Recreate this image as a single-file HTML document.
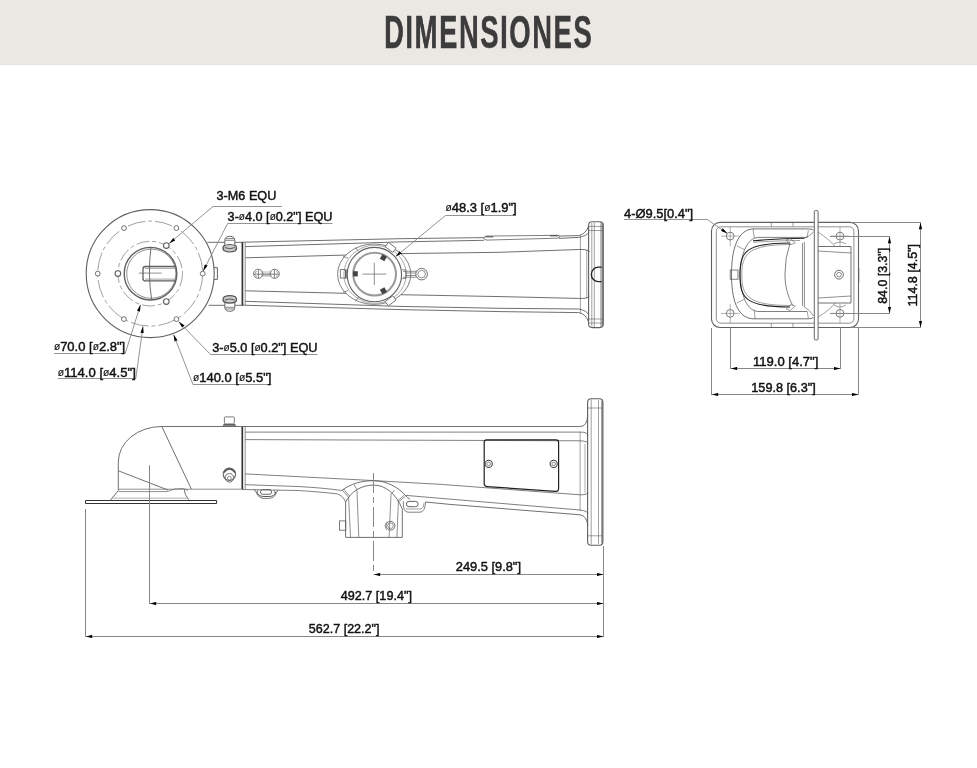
<!DOCTYPE html>
<html><head><meta charset="utf-8">
<style>
html,body{margin:0;padding:0;background:#fff;width:977px;height:768px;overflow:hidden}
#hdr{position:absolute;left:0;top:0;width:977px;height:64px;background:#ebe8e4;border-bottom:1px solid #e3e3e2}
#ttl{position:absolute;left:384px;top:4px;font-family:"Liberation Sans",sans-serif;font-weight:bold;font-size:47px;color:#3c3c3c;white-space:nowrap;transform-origin:0 0;transform:scaleX(0.585);letter-spacing:2.6px;-webkit-text-stroke:0.5px #3c3c3c;will-change:transform}
svg{position:absolute;left:0;top:0;will-change:transform}
svg text{font-family:"Liberation Sans",sans-serif;fill:#111;stroke:#111;stroke-width:0.45}
</style></head><body>
<div id="hdr"></div>
<div id="ttl">DIMENSIONES</div>
<svg width="977" height="768" viewBox="0 0 977 768">

<g id="plan" fill="none" stroke="#606060" stroke-width="0.9">
<circle cx="150.2" cy="273.6" r="64" stroke-width="1.1"/>
<path d="M213.9 267.7 H217.4 V279.4 H213.9" stroke-width="1"/>
<circle cx="150.2" cy="273.6" r="52.5" stroke-dasharray="18 3 4 3" stroke="#888" stroke-width="0.8"/>
<circle cx="150.2" cy="273.6" r="32.3" stroke-dasharray="13 3 4 3" stroke="#888" stroke-width="0.8"/>
<g stroke-width="0.9" fill="#fff">
<circle cx="202.7" cy="273.6" r="2.4"/>
<circle cx="176.4" cy="228.1" r="2.4"/>
<circle cx="124.0" cy="228.1" r="2.4"/>
<circle cx="97.7" cy="273.6" r="2.4"/>
<circle cx="123.9" cy="319.1" r="2.4"/>
<circle cx="176.4" cy="319.1" r="2.4"/>
</g>
<g stroke-width="1.1" fill="#fff">
<circle cx="166.3" cy="245.6" r="2.8"/>
<circle cx="117.9" cy="273.6" r="2.8"/>
<circle cx="166.3" cy="301.6" r="2.8"/>
</g>
<circle cx="150.5" cy="273.7" r="26.3" stroke-width="1.4"/>
<circle cx="151.3" cy="273.7" r="24.6" stroke-width="0.7"/>
<path d="M175.6 266.5 H145.5 Q143 266.5 143 269 V278.4 Q143 280.9 145.5 280.9 H175.6" stroke-width="1.3"/>
<path d="M145 268.3 H175.8 M145 279.1 H175.8" stroke-width="0.6"/>
<path d="M138.7 273.1 H161.6" stroke-width="0.7"/>
<path d="M150.9 248 Q147.6 273.7 151.6 299.4" stroke-width="0.9"/>
<!-- neck -->
<path d="M207.3 242.3 H242.4 M208.6 305.3 H242.4"/>
<path d="M242.4 242 V305.6" stroke="#333" stroke-width="1.7"/>
<path d="M245.2 242.3 V305.2" stroke-width="0.7"/>
<!-- nuts -->
<g stroke="#666" stroke-width="0.9">
<path d="M224.8 246 V240.5 Q224.8 236.3 229.8 236.3 Q234.8 236.3 234.8 240.5 V246" fill="#fff" stroke-width="1"/>
<path d="M225.2 238.6 H234.4 M225 240.3 H234.6" stroke="#777" stroke-width="0.9"/>
<path d="M223.6 246 Q229.8 243 236 246 Q237.4 248.8 235.4 250.8 Q229.8 253.2 224.2 250.8 Q222.2 248.8 223.6 246 Z" fill="#ccc" stroke="#555" stroke-width="1.2"/>
<path d="M224.8 247.6 Q229.8 249.8 234.8 247.6" stroke="#555" stroke-width="1"/>
<path d="M224.8 301.6 V307.1 Q224.8 311.3 229.8 311.3 Q234.8 311.3 234.8 307.1 V301.6" fill="#fff" stroke-width="1"/>
<path d="M225.2 309 H234.4 M225 307.3 H234.6" stroke="#777" stroke-width="0.9"/>
<path d="M223.6 301.6 Q229.8 304.6 236 301.6 Q237.4 298.8 235.4 296.8 Q229.8 294.4 224.2 296.8 Q222.2 298.8 223.6 301.6 Z" fill="#ccc" stroke="#555" stroke-width="1.2"/>
<path d="M224.8 300 Q229.8 297.8 234.8 300" stroke="#555" stroke-width="1"/>
</g>
<!-- arm lines -->
<path d="M242.4 242.2 L400 238.7 L500 237.4 L578.7 235.6 Q586 234 588.6 226"/>
<path d="M245.2 246.6 L400 241.9 L484 240.3 M559 238.4 L578.7 237.4 Q587 236 589 232"/>
<path d="M245.2 257.8 L400 253.6 L500 252.3 L578.7 249.5 Q588 249 589.6 252"/>
<path d="M245.2 290.8 L400 294.7 L500 296.6 L578.7 298.4 Q588 299 589.6 296"/>
<path d="M245.2 301.3 L400 306.4 L500 308.3 L578.7 309 Q587 310.5 589 315"/>
<path d="M242.4 305.2 L400 309.6 L500 311.6 L578.7 312.6 Q586 314 588.6 322"/>
<path d="M580.4 235 V313.5 M586.8 250 V298" stroke-width="0.6"/>
<!-- slot on top -->
<path d="M486.5 236.1 L557 235.3 Q559.8 235.4 559.8 236.8 Q559.6 238.1 557 238.2 L487 240.1 Q484 240.1 484 238.1 Q484.2 236.1 486.5 236.1 Z" stroke-width="0.8" fill="#fff"/>
<path d="M485.5 236.8 H493.2 M550 235.8 H558" stroke="#444" stroke-width="1"/>
<!-- flange -->
<rect x="588.6" y="221.8" width="14.7" height="105.8" rx="3.5" stroke-width="1.1"/>
<path d="M591.8 223 V326.5 M594.3 222.5 V327 M600.8 222 V327.5" stroke-width="0.6"/>
<path d="M589 226.4 H603 M589 230.5 H603 M589 319 H603 M589 323 H603" stroke-width="0.6"/>
<path d="M602.2 223 V326.5" stroke="#666" stroke-width="1.2"/>
<path d="M601.7 267.2 H598.5 A7.2 7.2 0 0 0 598.5 281.6 H601.7" stroke="#222" stroke-width="1.3"/>
<path d="M242.6 273.6 Q241.8 273.6 242.6 275" stroke-width="0.6"/>
<!-- camera mount -->
<ellipse cx="374.2" cy="274.2" rx="36.6" ry="30.2" stroke-width="0.8" fill="#fff"/>
<ellipse cx="375" cy="274.3" rx="31.2" ry="29" stroke="#888" stroke-width="0.7"/>
<circle cx="374.4" cy="274.6" r="27.2" stroke-width="1.1"/>
<circle cx="374.6" cy="274.1" r="21.4" stroke="#999" stroke-width="2"/>
<path d="M343 256.3 L348 258.3 M343 292.5 L348 290.5 M355.5 247.4 L358.4 251.4 M355.5 301.4 L358.4 297.4" stroke-width="0.7"/>
<path d="M345.9 269.5 V278.5" stroke="#444" stroke-width="1.4"/>
<path d="M362.3 274.1 H386.3 M374.3 262.8 V285" stroke-width="0.7"/>
<g fill="#444" stroke="none">
<rect x="380.8" y="255.1" width="5.2" height="5.2" transform="rotate(30 383.4 257.7)"/>
<rect x="353" y="271.2" width="4.8" height="5.2"/>
<rect x="380.8" y="288.1" width="5.2" height="5.2" transform="rotate(-30 383.4 290.7)"/>
</g>
<rect x="385.8" y="244.7" width="9.6" height="5.4" transform="rotate(37 390.6 247.4)" stroke-width="0.8" fill="#fff"/>
<rect x="385.8" y="298.1" width="9.6" height="5.4" transform="rotate(-37 390.6 300.8)" stroke-width="0.8" fill="#fff"/>
<rect x="340.3" y="269.6" width="5" height="8.4" stroke-width="0.8"/>
<path d="M403 271.3 H416.5 M403 277.2 H416.5 M405 273 H416 M405 275.5 H416" stroke-width="0.7"/>
<path d="M402 269.8 H406 V278.6 H402" stroke-width="0.7"/>
<circle cx="421.6" cy="274.1" r="5.8" stroke-width="0.9"/>
<circle cx="421.6" cy="274.1" r="3.8" stroke-width="0.7"/>
<!-- slot neck bolts -->
<rect x="261" y="271" width="10.5" height="5.7" fill="#ddd" stroke="none"/>
<circle cx="258.2" cy="273.8" r="4.6" stroke="#777" stroke-width="1"/>
<circle cx="274.7" cy="273.8" r="4.6" stroke="#777" stroke-width="1"/>
<path d="M253.8 274.2 H279.2" stroke="#666" stroke-width="0.8"/>
<path d="M262 275.8 H271" stroke="#999" stroke-width="0.6"/>
<path d="M258.4 269.5 V278.2 M274.4 269.5 V278.2" stroke="#666" stroke-width="0.8"/>
<path d="M256.8 270.8 L254.6 274 L256.8 277 M276.2 270.8 L278.4 274 L276.2 277" stroke="#888" stroke-width="0.7"/>
</g>

<g id="side" fill="none" stroke="#606060" stroke-width="0.9">
<!-- base plate -->
<path d="M85.5 500.5 H216.6 V503.5 H85.5 Z" stroke="#333" stroke-width="1"/>
<!-- pedestal -->
<path d="M110 500.5 L118.3 490.7 V462 A43.2 35.5 0 0 1 161.8 426.5 H241.8"/>
<path d="M188.8 499.8 Q184 494 184.4 489.6"/>
<path d="M161.8 426.5 L191.4 489.2 M118.6 470.9 L167.9 490"/>
<path d="M118.6 489.2 H241.8 M118.6 491.6 H167 Q175 488 182 488.5 Q186 489 188 490.5" stroke-width="0.7"/>
<path d="M112.6 498.2 H187" stroke-width="0.5"/>
<!-- nut top -->
<rect x="224.4" y="416.9" width="9.9" height="7" rx="0.8" stroke-width="0.8"/>
<path d="M223.4 424.6 H235.4 M222.8 425.8 H236" stroke="#555" stroke-width="1"/>
<!-- bolt -->
<circle cx="229.4" cy="474.3" r="6.2" stroke="#666" stroke-width="1.1"/>
<path d="M223.8 472.5 Q229.4 465.5 235 472.5" stroke="#555" stroke-width="1.5"/>
<circle cx="229.4" cy="477.8" r="4.3" stroke-width="0.9"/>
<circle cx="229.4" cy="478.2" r="1.9" stroke-width="0.7"/>
<path d="M242.3 426.4 V489.4" stroke="#333" stroke-width="1.7"/>
<path d="M245.2 426.6 V489.2" stroke-width="0.7"/>
<!-- arm lines -->
<path d="M242 426.5 H579.5 Q587.2 427 587.8 415"/>
<path d="M245.2 432.1 H580 Q588 432 588 436" stroke-width="0.8"/>
<path d="M245.2 439.6 L580 440.8 Q588 441 588 444" stroke-width="0.8"/>
<path d="M245.2 473.9 L370 480.4 L440 484.3 L580 494.8 Q588 495 588 492" stroke-width="0.8"/>
<path d="M245.2 484.7 L298 486.5 Q325 488 341.7 490.5" stroke-width="0.8"/>
<path d="M242 489.5 L298 490.5 Q322 492 337.3 493.9 Q343.5 496 345.6 502.2" stroke-width="0.8"/>
<path d="M406 495.4 L440 498.3 L580 510 Q588 511 588 514" stroke-width="0.8"/>
<path d="M425.5 502 L450 504.4 L580 514.8 Q587.2 516 587.8 526" />
<path d="M580.1 431.6 V511" stroke-width="0.6"/>
<path d="M585 444 V493" stroke-width="0.5"/>
<!-- hook below neck -->
<path d="M253.5 489.4 Q255.5 490 256.3 492.5 Q258.5 498.4 264.5 498.4 H268.5 Q274.5 498.4 276.5 492.5 Q277.3 490.2 278.3 489.9" stroke="#666" stroke-width="0.9"/>
<path d="M256.8 491.8 Q258.3 496.5 263.8 496.5 H269.2 Q274.6 496.5 275.8 491.8" stroke="#555" stroke-width="1"/>
<rect x="260.4" y="489.6" width="11.2" height="4.7" rx="2.3" stroke="#555" stroke-width="0.9"/>
<path d="M257.6 489.6 V492.8 M274.3 489.9 V492.8" stroke="#666" stroke-width="0.7"/>
<!-- mount -->
<path d="M341.7 490.5 C351 483.5 362 480.7 373.5 480.7 C386 480.7 398 487 405 495 Q407.5 498 410 499.3" stroke-width="0.9"/>
<path d="M345.6 537.4 V502.2 C351 491 362 485.1 373.5 485.1 C386 485.1 396 494 402.3 509 V537.4 Z" stroke-width="0.9"/>
<path d="M342.2 490 L348.6 497.3 M343.6 489 L349.6 496.3 M354 484.6 L356.9 489.5 M394.5 490 L391 494.4 M405.2 496.4 L398.4 502.2 M404 495.3 L397.4 501.2" stroke-width="0.7"/>
<path d="M348.6 497.3 L350.5 537.4 M356.9 489.5 L358.8 537.4 M391 494.4 L389.1 537.4 M398.4 502.2 L396.9 537.4" stroke-width="0.7"/>
<rect x="339.4" y="520.9" width="6.4" height="9.3" stroke-width="0.8"/>
<circle cx="390.5" cy="525.7" r="4.4" stroke-width="0.9"/>
<circle cx="390.5" cy="525.7" r="2.8" stroke-width="0.7"/>
<path d="M386.5 521.5 Q383.5 525.7 386.5 530" stroke-width="0.6"/>
<!-- hook right of mount -->
<path d="M403.3 501.2 Q403 512.2 408 512.2 H420 Q425.2 512 425.5 502" stroke-width="0.8"/>
<rect x="406.4" y="501.4" width="11.7" height="5.3" rx="2.6" stroke-width="1"/>
<path d="M406 509 H421 Q424 508 424 503" stroke-width="0.6"/>
<!-- cover plate -->
<path d="M486.5 439.8 H556 Q558.6 439.8 558.6 442.4 V488.5 Q558.6 491.5 555.5 491.3 L487 486.6 Q484.2 486.4 484.2 483.6 V442.4 Q484.2 439.8 486.5 439.8 Z" stroke="#222" stroke-width="1.2"/>
<circle cx="488.7" cy="463.9" r="3.6" stroke="#444" stroke-width="1.1"/>
<circle cx="488.7" cy="463.9" r="1.8" stroke-width="0.7"/>
<circle cx="553.7" cy="463.9" r="3.6" stroke="#444" stroke-width="1.1"/>
<circle cx="553.7" cy="463.9" r="1.8" stroke-width="0.7"/>
<!-- flange -->
<rect x="587.6" y="398.7" width="15.3" height="146.5" rx="3.5" stroke-width="1.1"/>
<path d="M591.2 399.5 V544.5 M598.5 400 V544" stroke-width="0.6"/>
<path d="M588 408 H602.5 M588 535.8 H602.5" stroke-width="0.6"/>
<path d="M602 400.5 V543.5" stroke="#666" stroke-width="1.2"/>
</g>

<g id="end" fill="none" stroke="#606060" stroke-width="0.9">
<rect x="711.5" y="222.4" width="147" height="105.1" rx="8.5" stroke-width="1.1"/>
<rect x="716.3" y="226.8" width="137.6" height="96.4" rx="4.5" stroke-width="0.7"/>
<path d="M771.3 222.5 V226.7 M793 222.5 V226.7 M771.3 323 V327.2 M793 323 V327.2" stroke-width="0.6"/>
<g stroke-width="0.8">
<circle cx="730.2" cy="236.1" r="3.9"/><circle cx="840" cy="236.1" r="3.9"/>
<circle cx="730.2" cy="313.4" r="3.9"/><circle cx="840" cy="313.4" r="3.9"/>
</g>
<path d="M721 236.1 H739.5 M730.2 227 V246 M721 313.4 H739.5 M730.2 304 V323 M831 236.1 H849 M840 227 V246 M831 313.4 H849 M840 304 V323" stroke-width="0.5"/>
<!-- U ring -->
<path d="M813.5 230 Q811 228.9 808.4 228.9 H753 C737 230, 731.5 250, 731.5 274.5 C731.5 299, 737 318, 753 318.8 H808.4 Q811 318.8 813.5 317.5" stroke-width="0.9"/>
<path d="M807 237.4 H758 C747 238.5, 741.5 252, 739.8 274.5 C741.5 297, 747 310.5, 758 311.5 H807" stroke-width="0.8"/>
<path d="M790 243 C745 243, 740 252, 740 275 C740 298, 745 307, 790 307" stroke="#222" stroke-width="1.1"/>
<path d="M791 244.5 C748 244.5, 741.8 254, 741.8 275 C741.8 296, 748 305.5, 791 305.5" stroke-width="0.6"/>
<path d="M753 240.8 Q780 238.3 804.4 238.2" stroke="#222" stroke-width="1.1"/>
<path d="M753 242.3 Q780 240.5 800 240.5" stroke-width="0.6"/>
<path d="M790 243.2 Q784.9 258 784.9 274.5 Q784.9 291 792.7 305.7" stroke-width="0.8"/>
<path d="M802.5 243 V306 M804.4 242 V307" stroke-width="0.7"/>
<path d="M804.4 238.2 Q810 236 813.5 232 M804.4 307 Q810 310 813.5 316" stroke-width="0.7"/>
<rect x="730.2" y="270" width="7.8" height="9.2" stroke-width="0.8"/>
<path d="M753 228.9 L754.3 238 M736.7 245.8 L744.5 249.7 M736.7 303.1 L744.5 299.2 M754.3 309.7 L755 318.8 M808.4 230.2 L807 238 M808.4 318.2 L807 311" stroke-width="0.6"/>
<path d="M786.2 240 L790 238.5 L795.3 243 L791 244.5 Z M786.2 309 L790 310.5 L795.3 306 L791 304.5 Z" stroke-width="0.6"/>
<!-- flange -->
<rect x="814.3" y="210.6" width="3.8" height="129.3" rx="1" stroke="#666" stroke-width="1" fill="#fff"/>
<!-- right box -->
<path d="M818 246.5 H851 V303 H818" stroke-width="0.9"/>
<path d="M818 251 L851 253 M818 298 L851 296" stroke-width="0.7"/>
<path d="M818 232 Q830 240 835 246.5 M818 317 Q830 310 835 303" stroke-width="0.6"/>
<circle cx="839" cy="274.7" r="4.4" stroke-width="0.9"/>
<circle cx="839" cy="274.7" r="2.3" stroke-width="0.7"/>
<path d="M834 244 Q840 240 846 244 M834 305 Q840 309 846 305" stroke-width="0.6"/>
<path d="M858.8 268 V282" stroke-width="0.8"/>
</g>

<defs>
<marker id="ar" viewBox="0 0 7 3.4" refX="7" refY="1.7" markerWidth="7" markerHeight="3.4" markerUnits="userSpaceOnUse" orient="auto-start-reverse">
<path d="M0 0 Q1 1.7 0 3.4 L7 1.7 Z" fill="#000"/>
</marker>
</defs>
<g id="dims" fill="none" stroke="#888" stroke-width="0.9">
<!-- leaders -->
<path d="M282 206.5 H213 L169.2 243.5" marker-end="url(#ar)"/>
<path d="M332.4 223.5 H227.6 L203.2 271" marker-end="url(#ar)"/>
<path d="M516 215.5 H445.5 L395.6 256.6" marker-end="url(#ar)"/>
<path d="M53.9 353.5 H125.2 L140.5 304.8" marker-end="url(#ar)"/>
<path d="M57.7 378.5 H135.8 L143 326.3" marker-end="url(#ar)"/>
<path d="M317.5 354.5 H210.5 L178.6 321.6" marker-end="url(#ar)"/>
<path d="M271.4 384.5 H193 L173.6 334.6" marker-end="url(#ar)"/>
<path d="M624 219.5 H707.4 L727.4 233.5" marker-end="url(#ar)"/>
</g>
<g fill="none" stroke="#888" stroke-width="1">
<!-- bottom dims -->
<path d="M373.5 574.5 H603.5" marker-start="url(#ar)" marker-end="url(#ar)"/>
<path d="M149.5 603.5 H603.5" marker-start="url(#ar)" marker-end="url(#ar)"/>
<path d="M85.5 636.5 H603.5" marker-start="url(#ar)" marker-end="url(#ar)"/>
<path d="M603.5 546 V637 M85.5 509 V637 M149.5 465.3 V604"/>
<path d="M373.5 473 V575" stroke-dasharray="20 4 6 4"/>
<!-- end view dims -->
<path d="M730.5 368.5 H840.5" marker-start="url(#ar)" marker-end="url(#ar)"/>
<path d="M711.5 394.5 H858.5" marker-start="url(#ar)" marker-end="url(#ar)"/>
<path d="M889.5 236.5 V313.5" marker-start="url(#ar)" marker-end="url(#ar)"/>
<path d="M920.5 222.5 V327.5" marker-start="url(#ar)" marker-end="url(#ar)"/>
<path d="M730.5 327.5 V369 M840.5 327.5 V369 M711.5 328 V395 M858.5 328 V395"/>
<path d="M851 222.5 H921 M851 327.5 H921 M830 236.5 H890 M830 313.5 H890"/>
</g>
<g font-size="12.7">
<text transform="translate(886.5 303.8) rotate(-90)" textLength="56" lengthAdjust="spacingAndGlyphs">84.0 [3.3"]</text>
<text transform="translate(916.5 306.6) rotate(-90)" textLength="62.6" lengthAdjust="spacingAndGlyphs">114.8 [4.5"]</text>
<text x="753.1" y="366.1" textLength="65.2" lengthAdjust="spacingAndGlyphs">119.0 [4.7"]</text>
<text x="751.3" y="391.7" textLength="64.4" lengthAdjust="spacingAndGlyphs">159.8 [6.3"]</text>
</g>
<g id="texts" font-size="12.7">
<text x="216.6" y="200.3" textLength="59.7" lengthAdjust="spacingAndGlyphs">3-M6 EQU</text>
<text x="227.6" y="220.7" textLength="104.8" lengthAdjust="spacingAndGlyphs">3-<tspan font-size="10" dy="-1.2" stroke-width="0.15">ø</tspan><tspan dy="1.2">4.0 [</tspan><tspan font-size="10" dy="-1.2" stroke-width="0.15">ø</tspan><tspan dy="1.2">0.2"] EQU</tspan></text>
<text x="445.5" y="212.1" textLength="71.2" lengthAdjust="spacingAndGlyphs"><tspan font-size="10" dy="-1.2" stroke-width="0.15">ø</tspan><tspan dy="1.2">48.3 [</tspan><tspan font-size="10" dy="-1.2" stroke-width="0.15">ø</tspan><tspan dy="1.2">1.9"]</tspan></text>
<text x="53.9" y="351.3" textLength="71.3" lengthAdjust="spacingAndGlyphs"><tspan font-size="10" dy="-1.2" stroke-width="0.15">ø</tspan><tspan dy="1.2">70.0 [</tspan><tspan font-size="10" dy="-1.2" stroke-width="0.15">ø</tspan><tspan dy="1.2">2.8"]</tspan></text>
<text x="57.7" y="376.7" textLength="78.1" lengthAdjust="spacingAndGlyphs"><tspan font-size="10" dy="-1.2" stroke-width="0.15">ø</tspan><tspan dy="1.2">114.0 [</tspan><tspan font-size="10" dy="-1.2" stroke-width="0.15">ø</tspan><tspan dy="1.2">4.5"]</tspan></text>
<text x="212.2" y="352.2" textLength="105.3" lengthAdjust="spacingAndGlyphs">3-<tspan font-size="10" dy="-1.2" stroke-width="0.15">ø</tspan><tspan dy="1.2">5.0 [</tspan><tspan font-size="10" dy="-1.2" stroke-width="0.15">ø</tspan><tspan dy="1.2">0.2"] EQU</tspan></text>
<text x="193" y="381.8" textLength="78.4" lengthAdjust="spacingAndGlyphs"><tspan font-size="10" dy="-1.2" stroke-width="0.15">ø</tspan><tspan dy="1.2">140.0 [</tspan><tspan font-size="10" dy="-1.2" stroke-width="0.15">ø</tspan><tspan dy="1.2">5.5"]</tspan></text>
<text x="624" y="217.6" textLength="69.1" lengthAdjust="spacingAndGlyphs">4-Ø9.5[0.4"]</text>
<text x="455.8" y="571.3" textLength="65.2" lengthAdjust="spacingAndGlyphs">249.5 [9.8"]</text>
<text x="340.8" y="600.4" textLength="71.1" lengthAdjust="spacingAndGlyphs">492.7 [19.4"]</text>
<text x="308.8" y="633.4" textLength="70.7" lengthAdjust="spacingAndGlyphs">562.7 [22.2"]</text>
</g>
</svg>
</body></html>
